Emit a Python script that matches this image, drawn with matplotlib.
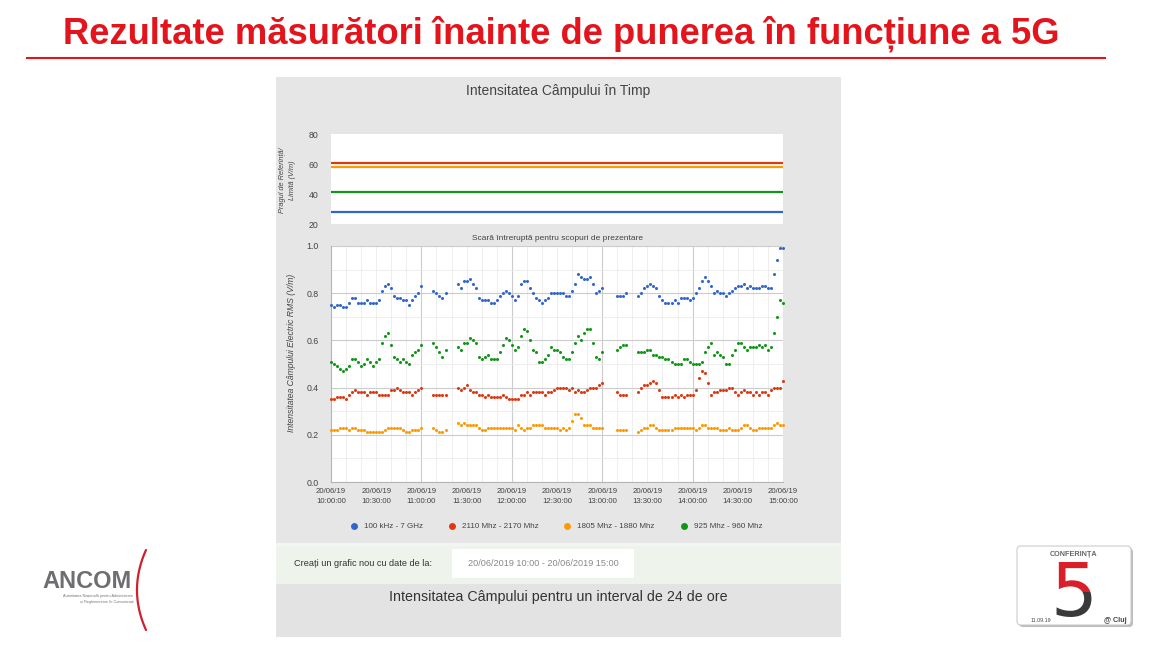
import numpy as np
import pandas as pd
import matplotlib
matplotlib.use("Agg")
import matplotlib.pyplot as plt
import matplotlib.dates as mdates
from matplotlib.patches import Rectangle, FancyBboxPatch, PathPatch
from matplotlib.textpath import TextPath
from matplotlib.font_manager import FontProperties
from matplotlib.transforms import Affine2D

W, H = 1150, 647

# ---------------- data ----------------
times = pd.date_range("2019-06-20 10:00", "2019-06-20 15:00", freq="2min")
tick_times = pd.date_range("2019-06-20 10:00", "2019-06-20 15:00", freq="30min")
_ = None

blue = [0.75,0.74,0.75,0.75,0.74,0.74,0.76,0.78,0.78,0.76,0.76,0.76,0.77,0.76,0.76,0.76,0.77,0.81,0.83,0.84,
        0.82,0.79,0.78,0.78,0.77,0.77,0.75,0.77,0.79,0.80,0.83, _,_,_, 0.81,0.80,0.79,0.78,0.80, _,_,_,
        0.84,0.82,0.85,0.85,0.86,0.84,0.82,0.78,0.77,0.77,0.77,0.76,0.76,0.77,0.79,0.80,0.81,0.80,0.79,0.77,
        0.79,0.84,0.85,0.85,0.82,0.80,0.78,0.77,0.76,0.77,0.78,0.80,0.80,
        0.80,0.80,0.80,0.79,0.79,0.81,0.84,0.88,0.87,0.86,0.86,0.87,0.84,0.80,0.81,0.82, _,_,_,_,
        0.79,0.79,0.79,0.80, _,_,_,
        0.79,0.80,0.82,0.83,0.84,0.83,0.82,0.79,0.77,0.76,0.76,0.76,
        0.77,0.76,0.78,0.78,0.78,0.77,0.78,0.80,0.82,0.85,0.87,0.85,0.83,0.80,0.81,0.80,0.80,0.79,0.80,0.81,
        0.82,0.83,0.83,0.84,0.82,0.83,0.82,0.82,0.82,0.83,0.83,0.82,0.82,0.88,0.94,0.99,0.99]

red = [0.35,0.35,0.36,0.36,0.36,0.35,0.37,0.38,0.39,0.38,0.38,0.38,0.37,0.38,0.38,0.38,0.37,0.37,0.37,0.37,
       0.39,0.39,0.40,0.39,0.38,0.38,0.38,0.37,0.38,0.39,0.40, _,_,_, 0.37,0.37,0.37,0.37,0.37, _,_,_,
       0.40,0.39,0.40,0.41,0.39,0.38,0.38,0.37,0.37,0.36,0.37,0.36,0.36,0.36,0.36,0.37,0.36,0.35,0.35,0.35,
       0.35,0.37,0.37,0.38,0.37,0.38,0.38,0.38,0.38,0.37,0.38,0.38,0.39,
       0.40,0.40,0.40,0.40,0.39,0.40,0.38,0.39,0.38,0.38,0.39,0.40,0.40,0.40,0.41,0.42, _,_,_,_,
       0.38,0.37,0.37,0.37, _,_,_,
       0.38,0.40,0.41,0.41,0.42,0.43,0.42,0.39,0.36,0.36,0.36,0.36,
       0.37,0.36,0.37,0.36,0.37,0.37,0.37,0.39,0.44,0.47,0.46,0.42,0.37,0.38,0.38,0.39,0.39,0.39,0.40,0.40,
       0.38,0.37,0.38,0.39,0.38,0.38,0.37,0.38,0.37,0.38,0.38,0.37,0.39,0.40,0.40,0.40,0.43]

orange = [0.22,0.22,0.22,0.23,0.23,0.23,0.22,0.23,0.23,0.22,0.22,0.22,0.21,0.21,0.21,0.21,0.21,0.21,0.22,0.23,
          0.23,0.23,0.23,0.23,0.22,0.21,0.21,0.22,0.22,0.22,0.23, _,_,_, 0.23,0.22,0.21,0.21,0.22, _,_,_,
          0.25,0.24,0.25,0.24,0.24,0.24,0.24,0.23,0.22,0.22,0.23,0.23,0.23,0.23,0.23,0.23,0.23,0.23,0.23,0.22,
          0.24,0.23,0.22,0.23,0.23,0.24,0.24,0.24,0.24,0.23,0.23,0.23,0.23,
          0.23,0.22,0.23,0.22,0.23,0.26,0.29,0.29,0.27,0.24,0.24,0.24,0.23,0.23,0.23,0.23, _,_,_,_,
          0.22,0.22,0.22,0.22, _,_,_,
          0.21,0.22,0.23,0.23,0.24,0.24,0.23,0.22,0.22,0.22,0.22,0.22,
          0.23,0.23,0.23,0.23,0.23,0.23,0.23,0.22,0.23,0.24,0.24,0.23,0.23,0.23,0.23,0.22,0.22,0.22,0.23,0.22,
          0.22,0.22,0.23,0.24,0.24,0.23,0.22,0.22,0.23,0.23,0.23,0.23,0.23,0.24,0.25,0.24,0.24]

green = [0.51,0.50,0.49,0.48,0.47,0.48,0.49,0.52,0.52,0.51,0.49,0.50,0.52,0.51,0.49,0.51,0.52,0.59,0.62,0.63,
         0.58,0.53,0.52,0.51,0.52,0.51,0.50,0.54,0.55,0.56,0.58, _,_,_, 0.59,0.57,0.55,0.53,0.56, _,_,_,
         0.57,0.56,0.59,0.59,0.61,0.60,0.59,0.53,0.52,0.53,0.54,0.52,0.52,0.52,0.55,0.58,0.61,0.60,0.58,0.56,
         0.57,0.62,0.65,0.64,0.60,0.56,0.55,0.51,0.51,0.52,0.54,0.57,0.56,
         0.56,0.55,0.53,0.52,0.52,0.55,0.59,0.62,0.60,0.63,0.65,0.65,0.59,0.53,0.52,0.55, _,_,_,_,
         0.56,0.57,0.58,0.58, _,_,_,
         0.55,0.55,0.55,0.56,0.56,0.54,0.54,0.53,0.53,0.52,0.52,0.51,
         0.50,0.50,0.50,0.52,0.52,0.51,0.50,0.50,0.50,0.51,0.55,0.57,0.59,0.54,0.55,0.54,0.53,0.50,0.50,0.54,
         0.56,0.59,0.59,0.57,0.56,0.57,0.57,0.57,0.58,0.57,0.58,0.56,0.57,0.63,0.70,0.77,0.76]

series_names = ["100 kHz - 7 GHz", "2110 Mhz - 2170 Mhz", "1805 Mhz - 1880 Mhz", "925 Mhz - 960 Mhz"]
series_values = [blue, red, orange, green]
series_colors = ["#3366cc", "#dc3912", "#ff9900", "#109618"]
limits = [28, 61, 58, 41.5]   # reference level (V/m) per band

# ---------------- figure ----------------
fig = plt.figure(figsize=(11.5, 6.47), dpi=100)
fig.patch.set_facecolor("white")
plt.rcParams["font.family"] = ["Liberation Sans", "DejaVu Sans"]

bg = fig.add_axes([0, 0, 1, 1], zorder=-5)
bg.set_xlim(0, W)
bg.set_ylim(H, 0)
bg.axis("off")

def rect(x0, y0, x1, y1, fc, ec="none", lw=0, z=0):
    bg.add_patch(Rectangle((x0, y0), x1 - x0, y1 - y0, facecolor=fc, edgecolor=ec, lw=lw, zorder=z))

RED = "#e3141b"
# slide title
bg.text(561, 34, "Rezultate măsurători înainte de punerea în funcțiune a 5G", color=RED,
        fontsize=26.2, fontweight="bold", ha="center", va="center")
bg.plot([27, 1105], [58, 58], color=RED, lw=1.5)

# chart panel
rect(276, 77, 841, 543, "#e6e6e6")
rect(276, 543, 841, 546, "#f4f4f4")
rect(276, 546, 841, 584, "#eef3eb")
rect(276, 584, 841, 637, "#e3e3e3")
rect(452, 549, 634, 578, "white")

bg.text(558, 91, "Intensitatea Câmpului în Timp", fontsize=10, color="#444444", ha="center", va="center")
bg.text(558, 238, "Scară întreruptă pentru scopuri de prezentare", fontsize=6, color="#444444",
        ha="center", va="center")
bg.text(283, 180, "Pragul de Referință/", fontsize=5.3, style="italic", color="#444444",
        rotation=90, ha="center", va="center")
bg.text(293, 180, "Limită (V/m)", fontsize=5.3, style="italic", color="#444444",
        rotation=90, ha="center", va="center")
bg.text(291, 353, "Intensitatea Câmpului Electric RMS (V/m)", fontsize=6.2, style="italic",
        color="#444444", rotation=90, ha="center", va="center")

# legend
leg_x = [354, 452, 567, 684]
for lx, name, col in zip(leg_x, series_names, series_colors):
    bg.plot([lx], [526], "o", ms=5, color=col, mec="none")
    bg.text(lx + 10, 526, name, fontsize=5.8, color="#444444", ha="left", va="center")

bg.text(294, 563, "Creați un grafic nou cu date de la:", fontsize=6.6, color="#333333", ha="left", va="center")
bg.text(543, 563.5, "20/06/2019 10:00 - 20/06/2019 15:00", fontsize=6.6, color="#888888",
        ha="center", va="center")
bg.text(558, 597, "Intensitatea Câmpului pentru un interval de 24 de ore", fontsize=10.3,
        color="#333333", ha="center", va="center")

# ANCOM logo
bg.text(87, 582, "ANCOM", fontsize=17, fontweight="bold", color="#6d6e71", ha="center", va="center")
bg.text(133, 596, "Autoritatea Națională pentru Administrare", fontsize=2.8, color="#777777",
        ha="right", va="center")
bg.text(133, 602, "și Reglementare în Comunicații", fontsize=2.8, color="#777777", ha="right", va="center")
arc_t = np.linspace(-1, 1, 60)
bg.plot(146 - 9 * (1 - arc_t ** 2), 590 + 40 * arc_t, color="#d0202e", lw=1.6, solid_capstyle="round")

# conference logo
bg.add_patch(FancyBboxPatch((1019, 548), 114, 79, boxstyle="round,pad=0,rounding_size=4",
                            facecolor="#bbbbbb", edgecolor="none", zorder=1))
bg.add_patch(FancyBboxPatch((1017, 546), 114, 79, boxstyle="round,pad=0,rounding_size=4",
                            facecolor="white", edgecolor="#cccccc", lw=0.8, zorder=2))
bg.text(1074, 554, "CONFERINȚA", fontsize=5.2, fontweight="bold", color="#666666",
        ha="center", va="center", zorder=3)
tp = TextPath((0, 0), "5", size=1, prop=FontProperties(family="DejaVu Sans"))
bb = tp.get_extents()
sc = 55 / bb.height
tr = Affine2D().translate(-(bb.x0 + bb.width / 2), -bb.y0).scale(sc, -sc).translate(1074, 617) + bg.transData
for col, (cy0, cy1) in [("#d9202a", (555, 592)), ("#3a3a3a", (592, 630))]:
    pp = PathPatch(tp, transform=tr, facecolor=col, edgecolor="none", zorder=3)
    bg.add_patch(pp)
    pp.set_clip_path(Rectangle((1030, cy0), 90, cy1 - cy0, transform=bg.transData))
bg.text(1031, 620, "11.09.19", fontsize=3.8, color="#444444", ha="left", va="center", zorder=3)
bg.text(1127, 620, "@ Cluj", fontsize=5.2, fontweight="bold", color="#444444", ha="right", va="center", zorder=3)

# ---------------- chart axes ----------------
x = mdates.date2num(times.to_pydatetime())
xt = mdates.date2num(tick_times.to_pydatetime())
xlabels = [t.strftime("%d/%m/%y\n%H:%M:%S") for t in tick_times]

ax_top = fig.add_axes([331 / W, 1 - 224 / H, 452 / W, 90 / H])
ax_top.set_facecolor("white")
for lim, col in zip(limits, series_colors):
    ax_top.plot([x[0], x[-1]], [lim, lim], color=col, lw=1.6)
ax_top.set_xlim(x[0], x[-1])
ax_top.set_ylim(20, 80)
ax_top.set_yticks([20, 40, 60, 80])
ax_top.set_xticks([])
ax_top.tick_params(axis="y", length=0, pad=9, labelsize=6.3, labelcolor="#444444")
for s in ax_top.spines.values():
    s.set_visible(False)

ax = fig.add_axes([331 / W, 1 - 482 / H, 452 / W, 236 / H])
ax.set_facecolor("white")
ax.set_xlim(x[0], x[-1])
ax.set_ylim(0, 1.0)
ax.set_yticks(np.arange(0, 1.01, 0.2))
ax.set_yticklabels([f"{v:.1f}" for v in np.arange(0, 1.01, 0.2)])
ax.set_yticks(np.arange(0.1, 1.0, 0.2), minor=True)
ax.grid(axis="y", which="major", color="#cccccc", lw=0.8)
ax.grid(axis="y", which="minor", color="#ebebeb", lw=0.6)
for t in pd.date_range("2019-06-20 10:10", "2019-06-20 14:50", freq="10min"):
    xv = mdates.date2num(t.to_pydatetime())
    ax.axvline(xv, color="#cccccc" if t.minute == 0 else "#ebebeb", lw=0.8 if t.minute == 0 else 0.6,
               zorder=0.5)
ax.set_xticks(xt)
ax.set_xticklabels(xlabels, linespacing=1.75)
ax.tick_params(axis="x", length=0, pad=4, labelsize=5.6, labelcolor="#444444")
ax.tick_params(axis="y", which="both", length=0, pad=9, labelsize=6.3, labelcolor="#444444")
ax.set_axisbelow(True)
for side in ["top", "right"]:
    ax.spines[side].set_visible(False)
for side in ["left", "bottom"]:
    ax.spines[side].set_color("#b5b5b5")
    ax.spines[side].set_linewidth(0.8)

for vals, col in zip(series_values, series_colors):
    ax.plot(x, np.array(vals, dtype=float), "o", ms=2.2, color=col, mec="none", zorder=3, clip_on=False)

fig.savefig("out.png", dpi=100, facecolor="white")
